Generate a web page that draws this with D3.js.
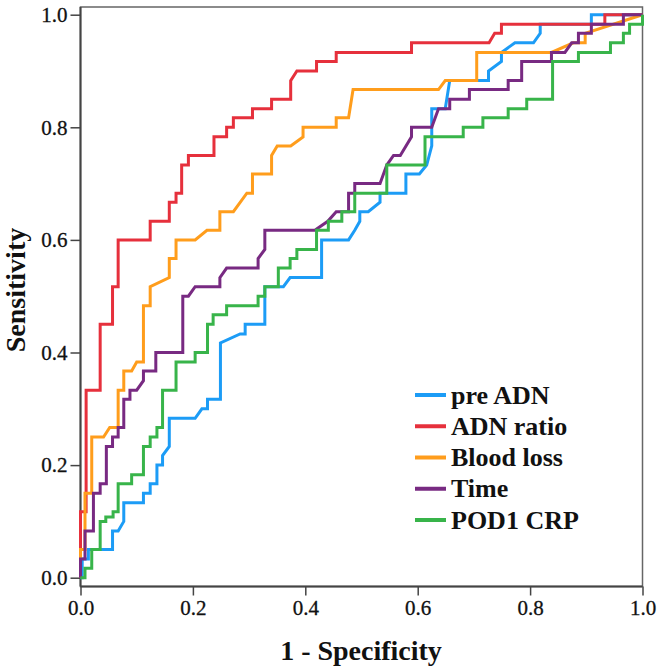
<!DOCTYPE html>
<html>
<head>
<meta charset="utf-8">
<script src="https://cdn.jsdelivr.net/npm/d3@7/dist/d3.min.js"></script>
<style>
  html, body { margin: 0; padding: 0; background: #fff; }
  svg { display: block; }
</style>
</head>
<body>
<svg id="chart" width="661" height="669"></svg>
<script>
// ---- data (1 - specificity, sensitivity) ----
const seriesNames = ["pre ADN", "ADN ratio", "Blood loss", "Time", "POD1 CRP"];
const seriesColors = ["#1c9cf6", "#e6303c", "#ff9d1c", "#782a82", "#38b44a"];
const tickValues = [0, 0.2, 0.4, 0.6, 0.8, 1.0];

const preADN = [[0,0],[0.003,0],[0.003,0.033],[0.014,0.033],[0.014,0.05],[0.057,0.05],[0.057,0.083],[0.067,0.083],[0.077,0.1],[0.077,0.133],[0.112,0.133],[0.112,0.15],[0.124,0.15],[0.124,0.167],[0.136,0.167],[0.136,0.2],[0.146,0.2],[0.146,0.217],[0.158,0.233],[0.158,0.283],[0.204,0.283],[0.216,0.3],[0.226,0.3],[0.226,0.317],[0.249,0.317],[0.249,0.417],[0.284,0.433],[0.293,0.433],[0.293,0.45],[0.328,0.45],[0.328,0.517],[0.361,0.517],[0.373,0.533],[0.429,0.533],[0.429,0.6],[0.477,0.6],[0.488,0.617],[0.497,0.633],[0.497,0.65],[0.512,0.65],[0.533,0.667],[0.533,0.683],[0.579,0.683],[0.579,0.717],[0.603,0.717],[0.616,0.733],[0.625,0.767],[0.625,0.833],[0.649,0.833],[0.657,0.883],[0.726,0.883],[0.726,0.9],[0.749,0.917],[0.749,0.933],[0.773,0.95],[0.806,0.95],[0.818,0.967],[0.818,0.983],[0.909,0.983],[0.909,1],[1,1]];

const adnRatio = [[0,0],[0,0.117],[0.01,0.117],[0.01,0.333],[0.035,0.333],[0.035,0.45],[0.057,0.45],[0.057,0.517],[0.067,0.517],[0.067,0.6],[0.124,0.6],[0.124,0.633],[0.158,0.633],[0.158,0.667],[0.170,0.667],[0.170,0.683],[0.180,0.683],[0.180,0.733],[0.192,0.733],[0.192,0.75],[0.2375,0.75],[0.2375,0.783],[0.260,0.783],[0.260,0.8],[0.272,0.8],[0.272,0.817],[0.306,0.817],[0.306,0.833],[0.340,0.833],[0.340,0.85],[0.374,0.85],[0.374,0.883],[0.385,0.9],[0.420,0.9],[0.420,0.917],[0.455,0.917],[0.455,0.933],[0.589,0.933],[0.589,0.95],[0.727,0.95],[0.737,0.967],[0.749,0.967],[0.749,0.983],[0.933,0.983],[0.933,1],[1,1]];

const bloodLoss = [[0,0],[0,0.05],[0.008,0.05],[0.008,0.15],[0.02,0.15],[0.02,0.25],[0.041,0.25],[0.052,0.267],[0.067,0.267],[0.067,0.333],[0.077,0.333],[0.077,0.367],[0.091,0.367],[0.1,0.383],[0.112,0.383],[0.112,0.483],[0.124,0.483],[0.124,0.517],[0.158,0.533],[0.158,0.567],[0.170,0.567],[0.170,0.6],[0.204,0.6],[0.225,0.617],[0.248,0.617],[0.248,0.65],[0.272,0.65],[0.296,0.683],[0.306,0.683],[0.306,0.717],[0.340,0.717],[0.340,0.75],[0.350,0.767],[0.374,0.767],[0.396,0.783],[0.396,0.8],[0.455,0.8],[0.455,0.817],[0.477,0.817],[0.485,0.867],[0.637,0.867],[0.649,0.883],[0.705,0.883],[0.705,0.933],[0.838,0.933],[0.877,0.95],[0.898,0.95],[0.898,0.967],[1,1]];

const timeSeries = [[0,0],[0,0.033],[0.008,0.033],[0.008,0.083],[0.023,0.083],[0.023,0.15],[0.035,0.15],[0.035,0.167],[0.046,0.167],[0.046,0.233],[0.057,0.233],[0.057,0.25],[0.067,0.25],[0.067,0.267],[0.077,0.267],[0.077,0.317],[0.088,0.317],[0.088,0.333],[0.1,0.333],[0.112,0.35],[0.112,0.367],[0.134,0.367],[0.134,0.4],[0.182,0.4],[0.182,0.5],[0.192,0.5],[0.204,0.517],[0.248,0.517],[0.248,0.533],[0.26,0.55],[0.316,0.55],[0.316,0.567],[0.328,0.583],[0.328,0.617],[0.417,0.617],[0.44,0.633],[0.455,0.65],[0.477,0.65],[0.477,0.683],[0.488,0.683],[0.488,0.7],[0.533,0.7],[0.545,0.733],[0.557,0.75],[0.569,0.75],[0.589,0.783],[0.589,0.8],[0.625,0.8],[0.637,0.833],[0.657,0.833],[0.657,0.85],[0.692,0.85],[0.692,0.867],[0.761,0.867],[0.761,0.883],[0.785,0.883],[0.785,0.917],[0.838,0.917],[0.838,0.933],[0.862,0.933],[0.874,0.95],[0.886,0.95],[0.886,0.967],[0.909,0.967],[0.909,0.983],[0.966,0.983],[0.966,1],[1,1]];

const pod1CRP = [[0,0],[0.008,0],[0.008,0.017],[0.02,0.017],[0.02,0.05],[0.035,0.05],[0.035,0.1],[0.045,0.1],[0.045,0.108],[0.058,0.108],[0.058,0.117],[0.067,0.117],[0.067,0.167],[0.091,0.167],[0.091,0.183],[0.112,0.183],[0.112,0.233],[0.124,0.233],[0.124,0.25],[0.136,0.25],[0.136,0.267],[0.146,0.267],[0.146,0.333],[0.170,0.333],[0.170,0.383],[0.204,0.383],[0.204,0.4],[0.226,0.4],[0.226,0.45],[0.236,0.45],[0.236,0.467],[0.260,0.467],[0.260,0.483],[0.316,0.483],[0.316,0.5],[0.328,0.5],[0.328,0.517],[0.352,0.517],[0.352,0.55],[0.373,0.55],[0.373,0.567],[0.385,0.567],[0.385,0.583],[0.420,0.583],[0.420,0.617],[0.441,0.617],[0.441,0.633],[0.465,0.633],[0.465,0.65],[0.488,0.65],[0.488,0.683],[0.545,0.683],[0.545,0.733],[0.613,0.733],[0.613,0.783],[0.681,0.783],[0.681,0.8],[0.716,0.8],[0.716,0.817],[0.761,0.817],[0.761,0.833],[0.794,0.833],[0.794,0.85],[0.840,0.85],[0.840,0.917],[0.886,0.917],[0.886,0.933],[0.943,0.933],[0.943,0.95],[0.966,0.95],[0.966,0.967],[0.977,0.967],[0.977,0.983],[1,0.983],[1,1]];

const seriesData = [preADN, adnRatio, bloodLoss, timeSeries, pod1CRP];

// ---- drawing ----
const svg = d3.select("#chart");
const frame = {left: 80.5, right: 642.5, top: 7, bottom: 586.5};
const x = d3.scaleLinear().domain([0, 1]).range([80.5, 642.5]);
const y = d3.scaleLinear().domain([0, 1]).range([577.7, 14.7]);
const serif = "'Liberation Serif', 'Times New Roman', serif";

// frame
svg.append("rect")
  .attr("x", frame.left).attr("y", frame.top)
  .attr("width", frame.right - frame.left).attr("height", frame.bottom - frame.top)
  .attr("fill", "none").attr("stroke", "#666").attr("stroke-width", 1.5);
svg.append("line").attr("x1", frame.left).attr("x2", frame.left)
  .attr("y1", frame.top).attr("y2", frame.bottom)
  .attr("stroke", "#444").attr("stroke-width", 2);
svg.append("line").attr("x1", frame.left).attr("x2", frame.right)
  .attr("y1", frame.bottom).attr("y2", frame.bottom)
  .attr("stroke", "#444").attr("stroke-width", 2);

// axes
const fmt = d3.format(".1f");
const yAxis = svg.append("g").attr("transform", `translate(${frame.left},0)`)
  .call(d3.axisLeft(y).tickValues(tickValues).tickFormat(fmt).tickSize(10).tickPadding(3));
const xAxis = svg.append("g").attr("transform", `translate(0,${frame.bottom})`)
  .call(d3.axisBottom(x).tickValues(tickValues).tickFormat(fmt).tickSize(9).tickPadding(5));
[yAxis, xAxis].forEach(g => {
  g.select(".domain").remove();
  g.selectAll(".tick line").attr("stroke", "#444").attr("stroke-width", 1.5);
  g.selectAll(".tick text").attr("font-family", serif).attr("font-size", 21)
    .attr("fill", "#111").attr("stroke", "#111").attr("stroke-width", 0.3);
});

// axis titles
svg.append("text").attr("x", 361).attr("y", 660)
  .attr("text-anchor", "middle").attr("font-family", serif)
  .attr("font-weight", "bold").attr("font-size", 28).attr("fill", "#111")
  .text("1 - Specificity");
svg.append("text").attr("transform", "translate(25,290) rotate(-90)")
  .attr("text-anchor", "middle").attr("font-family", serif)
  .attr("font-weight", "bold").attr("font-size", 28).attr("fill", "#111")
  .text("Sensitivity");

// curves
const line = d3.line().x(d => x(d[0])).y(d => y(d[1]));
seriesData.forEach((data, i) => {
  svg.append("path").datum(data)
    .attr("d", line).attr("fill", "none")
    .attr("stroke", seriesColors[i]).attr("stroke-width", 3)
    .attr("stroke-linejoin", "miter");
});

// legend
const legendY = d3.scalePoint().domain(seriesNames).range([395, 520]);
const lg = svg.append("g");
seriesNames.forEach((name, i) => {
  const yy = legendY(name);
  lg.append("line").attr("x1", 415).attr("x2", 446).attr("y1", yy).attr("y2", yy)
    .attr("stroke", seriesColors[i]).attr("stroke-width", 4);
  lg.append("text").attr("x", 451).attr("y", yy).attr("dy", "0.33em")
    .attr("font-family", serif).attr("font-weight", "bold").attr("font-size", 26)
    .attr("fill", "#111").text(name);
});
</script>
</body>
</html>
